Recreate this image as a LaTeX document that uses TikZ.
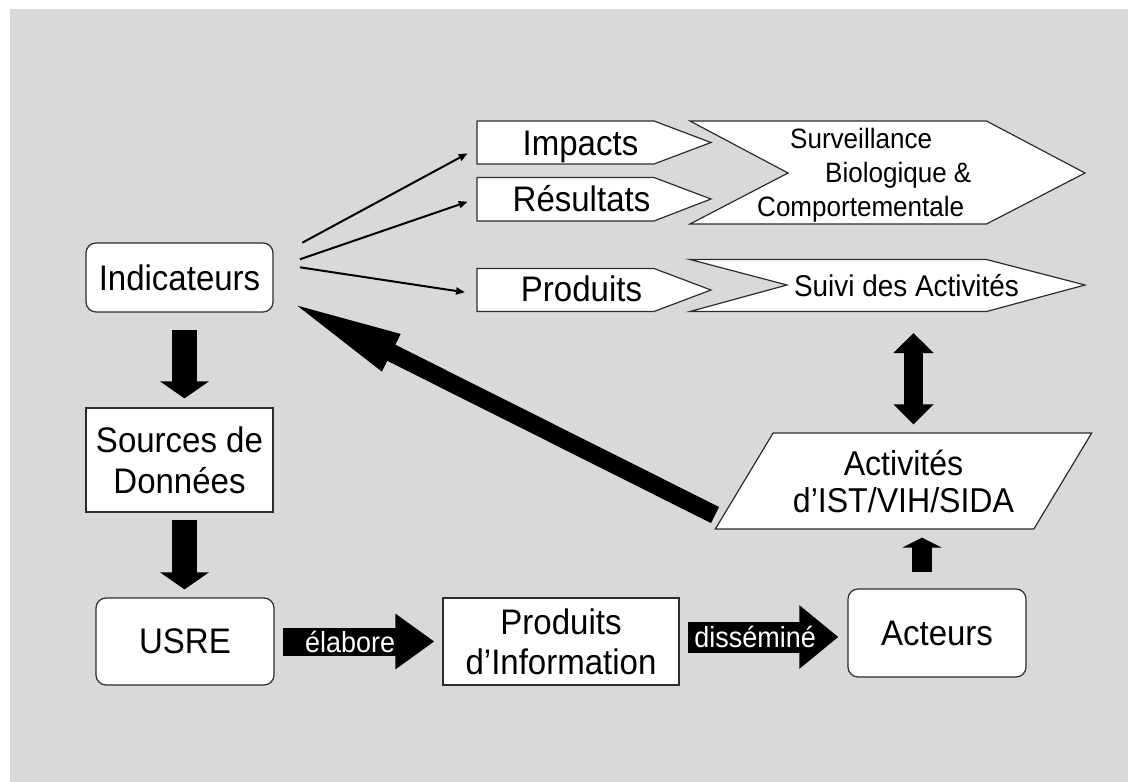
\documentclass[tikz,border=0pt]{standalone}
\usepackage{fontspec}
\setmainfont{Liberation Sans}[FakeStretch=0.93]
\usetikzlibrary{arrows.meta,calc,shapes.geometric}

\definecolor{slidegray}{RGB}{217,217,217}
\definecolor{edgegray}{RGB}{45,45,45}

\tikzset{
  box/.style={draw=edgegray, line width=1.2pt, fill=white, inner sep=0pt,
    align=center, font=\fontsize{35.5}{40}\selectfont},
  roundbox/.style={box, rounded corners=10pt},
  chev/.style={draw=edgegray, line width=1.2pt, fill=white},
  lbl/.style={inner sep=0pt, font=\fontsize{35.5}{40}\selectfont},
  arrowlbl/.style={inner sep=0pt, text=white, font=\fontsize{29}{32}\selectfont},
  thinarrow/.style={line width=2pt, -{Triangle[length=9pt,width=7pt]}},
  downarrow/.style={line width=25pt, -{Triangle[length=17pt,width=48pt]}}
}

\begin{document}
\begin{tikzpicture}[x=1pt,y=-1pt]

  % slide background
  \fill[white] (0,0) rectangle (1128,782);
  \fill[slidegray] (10,9) rectangle (1128,782);
  \useasboundingbox (0,0) rectangle (1128,782);

  % left column and bottom row
  \node[roundbox, minimum width=187pt, minimum height=69pt] (ind) at (179.5,277.5) {Indicateurs};
  \node[box, minimum width=187pt, minimum height=104pt, font=\fontsize{35.5}{41}\selectfont]
    (src) at (179.5,460) {Sources de\\Données};
  \node[roundbox, minimum width=178pt, minimum height=87pt] (usre) at (185,641.5) {USRE};
  \node[box, minimum width=236pt, minimum height=87pt] (info) at (561,641.5) {Produits\\d’Information};
  \node[roundbox, minimum width=178pt, minimum height=88pt] (act) at (937,633) {Acteurs};
  \node[box, trapezium, trapezium left angle=52, trapezium right angle=128,
    trapezium stretches=true, minimum width=377pt, minimum height=96pt,
    font=\fontsize{34.5}{37}\selectfont] (ist) at (903.5,481) {Activités\\d’IST/VIH/SIDA};

  % chevrons
  \filldraw[chev] (477,121) -- (654,121) -- (711,142.5) -- (654,164) -- (477,164) -- cycle;
  \filldraw[chev] (477,177.5) -- (654,177.5) -- (711,199) -- (654,221) -- (477,221) -- cycle;
  \filldraw[chev] (477,268.5) -- (654,268.5) -- (711,290) -- (654,311.5) -- (477,311.5) -- cycle;
  \filldraw[chev] (690,121) -- (986.5,121) -- (1085,173) -- (986.5,224) -- (690,224)
    -- (788,173) -- cycle;
  \filldraw[chev] (690,259.5) -- (986.5,259.5) -- (1085,285) -- (986.5,311.5) -- (690,311.5)
    -- (787,285) -- cycle;

  \node[lbl, anchor=base] (imp) at (580.5,155.5) {Impacts};
  \node[lbl, anchor=base] (res) at (581.5,211.5) {Résultats};
  \node[lbl, anchor=base] (prod) at (581.5,301.5) {Produits};
  \node[lbl, anchor=base west, align=left, font=\fontsize{28}{34}\selectfont] (surv)
    at (757,216) {\hspace*{33pt}Surveillance\\\hspace*{68pt}Biologique \&\\Comportementale};
  \node[lbl, anchor=base, font=\fontsize{30}{32}\selectfont] (suivi) at (906.5,296.5)
    {Suivi des Activités};

  \coordinate (impin) at (467.7,153.3);
  \coordinate (resin) at (467.7,201.7);
  \coordinate (prodin) at (465,292.3);
  \coordinate (suivibot) at (913.5,311.5);
  \coordinate (bigtail) at (715,515);
  \coordinate (bigtip) at (284,299);

  % arrows
  \draw[thinarrow] ($(ind.east)+(28.7,-34.8)$) -- (impin);
  \draw[thinarrow] ($(ind.east)+(26.3,-18.2)$) -- (resin);
  \draw[thinarrow] ($(ind.east)+(26.3,-10.2)$) -- (prodin);

  \draw[downarrow, shorten <=17pt, shorten >=9pt] ([xshift=5pt]ind.south) -- ([xshift=5pt]src.north);
  \draw[downarrow, shorten <=7pt, shorten >=8pt] ([xshift=5pt]src.south)
    -- ([xshift=5pt]src.south |- usre.north);

  \draw[line width=28pt, -{Triangle[length=39pt,width=53pt]}, shorten <=8pt, shorten >=8pt]
    (usre.east) -- node[arrowlbl, pos=0.45] {élabore} (info.west);
  \draw[line width=31pt, -{Triangle[length=39pt,width=61pt]}, shorten <=8pt, shorten >=9pt]
    ([yshift=4.5pt]info.east) -- node[arrowlbl, pos=0.45] {disséminé}
    ([yshift=4.5pt]info.east -| act.west);

  \draw[line width=20pt, -{Triangle[length=10pt,width=39pt]}, shorten <=16pt, shorten >=8pt]
    ([xshift=-15pt]act.north) -- ([xshift=-15pt]act.north |- ist.south);
  \draw[line width=19pt, {Triangle[length=20pt,width=39pt]}-{Triangle[length=20pt,width=39pt]},
    shorten <=8pt, shorten >=21.5pt] (ist.north -| suivibot) -- (suivibot);

  \draw[line width=18pt, -{Triangle[length=120pt,width=36pt]}] (bigtail) -- (bigtip);

\end{tikzpicture}
\end{document}
